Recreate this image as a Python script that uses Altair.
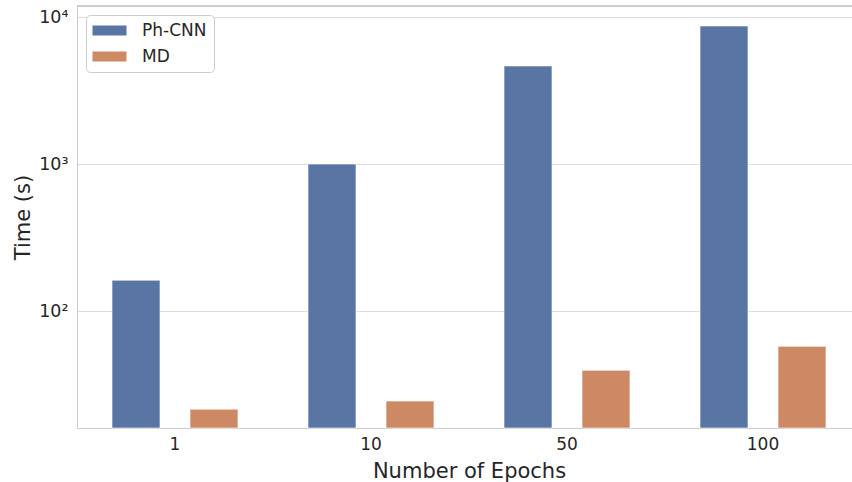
import altair as alt
import pandas as pd

epochs = ["1", "10", "50", "100"]
ph_cnn = [162, 1000, 4650, 8700]
md = [21.5, 24.4, 39.5, 57.5]
methods = ["Ph-CNN", "MD"]
colors = ["#5975A4", "#CC8963"]
y_ticks = [100, 1000, 10000]

rows = []
for i, e in enumerate(epochs):
    rows.append({"epoch": e, "method": "Ph-CNN", "time": ph_cnn[i]})
    rows.append({"epoch": e, "method": "MD", "time": md[i]})
df = pd.DataFrame(rows)

FONT = "DejaVu Sans"
TXT = "#262626"

bars = alt.Chart(df).mark_bar(stroke="white", strokeWidth=0.6, filled=True).encode(
    x=alt.X("epoch:N", sort=epochs,
            scale=alt.Scale(range=[0, 784], paddingInner=0, paddingOuter=0),
            axis=alt.Axis(title="Number of Epochs", labelAngle=0, ticks=False,
                          labelPadding=8, titlePadding=8, domainColor="#cccccc",
                          labelFontSize=17, titleFontSize=21, grid=False)),
    xOffset=alt.XOffset("method:N", sort=methods,
                        scale=alt.Scale(range=[0, 196], paddingInner=0.385, paddingOuter=0.449)),
    y=alt.Y("time:Q",
            scale=alt.Scale(type="log", domain=[16, 11900], nice=False),
            axis=alt.Axis(title="Time (s)", values=y_ticks, ticks=False,
                          labelExpr="datum.value == 100 ? '10²' : datum.value == 1000 ? '10³' : '10⁴'",
                          labelPadding=9, titlePadding=5, domainColor="#cccccc",
                          gridColor="#dcdcdc", labelFontSize=17.5, titleFontSize=21)),
    y2=alt.Y2(datum=16),
    fill=alt.Fill("method:N", sort=methods,
                  scale=alt.Scale(domain=methods, range=colors),
                  legend=alt.Legend(title=None, orient="none", legendX=9, legendY=9,
                                    symbolType="M-2,-0.6 L2,-0.6 L2,0.6 L-2,0.6 Z",
                                    symbolSize=289, symbolStrokeWidth=0,
                                    symbolOffset=8,
                                    labelFontSize=17, labelColor=TXT,
                                    rowPadding=8, labelOffset=24,
                                    padding=7, strokeColor="#cccccc",
                                    fillColor="white", cornerRadius=4)),
)

top = alt.Chart(df).mark_rule(color="#cccccc", strokeWidth=1).encode(y=alt.value(0))

chart = alt.layer(bars, top).properties(
    width=775, height=422,
    autosize=alt.AutoSizeParams(type="none"),
    padding={"left": 77, "top": 6, "right": 0, "bottom": 54},
).configure_view(stroke=None).configure(
    font=FONT,
).configure_axis(
    labelFont=FONT, titleFont=FONT, labelColor=TXT, titleColor=TXT,
    titleFontWeight="normal",
).configure_legend(labelFont=FONT)

chart.save("out.html", embed_options={"renderer": "svg", "actions": False})
